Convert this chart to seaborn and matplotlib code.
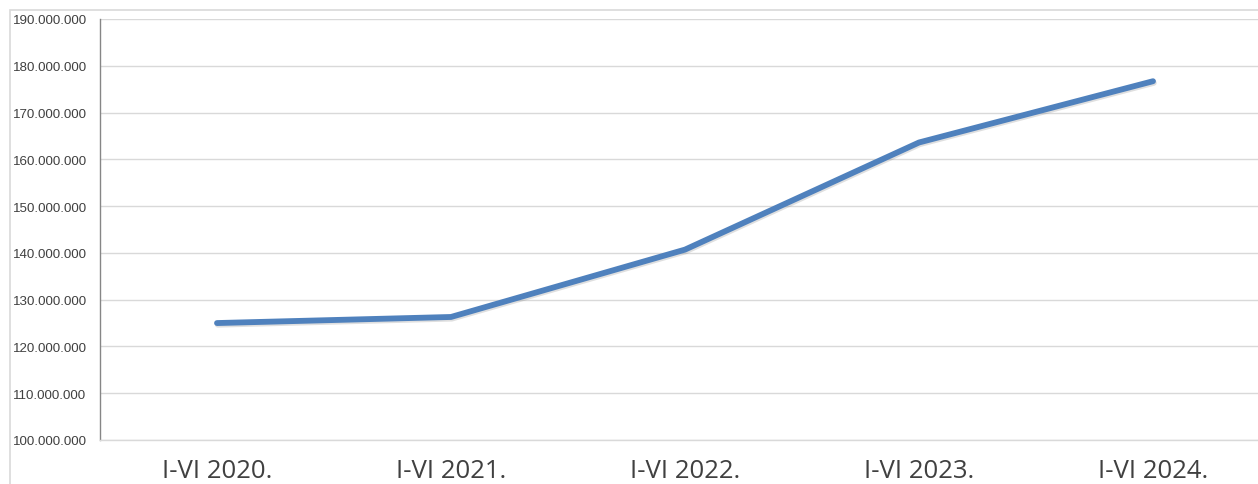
import matplotlib
matplotlib.use("Agg")
import matplotlib.pyplot as plt
import matplotlib.patheffects as pe
from matplotlib.ticker import FuncFormatter, MultipleLocator
from matplotlib.patches import Rectangle
import pandas as pd
import seaborn as sns

# data
periods = ["I-VI 2020.", "I-VI 2021.", "I-VI 2022.", "I-VI 2023.", "I-VI 2024."]
values = [125_000_000, 126_300_000, 140_700_000, 163_600_000, 176_700_000]

df = pd.DataFrame({"period": periods, "value": values})

sns.set_theme(style="white")
plt.rcParams["font.family"] = ["Liberation Sans", "DejaVu Sans"]

fig = plt.figure(figsize=(12.58, 4.85), dpi=100)
# outer chart frame
fig.patches.append(Rectangle((10 / 1258, -0.1), 1.2, 1 - 11 / 485 + 0.1,
                             transform=fig.transFigure, fill=False,
                             edgecolor="#D9D9D9", linewidth=1.2))

ax = fig.add_axes([100 / 1258, 1 - 441 / 485, 1170 / 1258, 421 / 485])

sns.lineplot(data=df, x="period", y="value", ax=ax, color="#4F81BD",
             linewidth=4.2, solid_capstyle="round", solid_joinstyle="round",
             sort=False,
             path_effects=[pe.SimpleLineShadow(offset=(0.6, -1.2), alpha=0.25,
                                               shadow_color="#808080"),
                           pe.Normal()])

ax.set_xlim(-0.5, len(periods) - 0.5)
ax.set_ylim(100_000_000, 190_000_000)
ax.yaxis.set_major_locator(MultipleLocator(10_000_000))
ax.yaxis.set_major_formatter(FuncFormatter(lambda v, p: f"{int(v):,}".replace(",", ".")))

ax.grid(axis="y", color="#D9D9D9", linewidth=1.0)
ax.set_axisbelow(True)
for s in ["top", "right"]:
    ax.spines[s].set_visible(False)
ax.spines["bottom"].set_color("#D9D9D9")
ax.spines["bottom"].set_linewidth(1.0)
ax.spines["left"].set_color("#868686")
ax.spines["left"].set_linewidth(1.0)

ax.set_xlabel("")
ax.set_ylabel("")
ax.tick_params(axis="y", length=0, pad=63, labelsize=9.6, labelcolor="#404040")
ax.tick_params(axis="x", length=0, pad=13, labelsize=18.5, labelcolor="#404040")
for lbl in ax.get_yticklabels():
    lbl.set_horizontalalignment("left")
for lbl in ax.get_xticklabels():
    lbl.set_fontfamily(["Open Sans", "DejaVu Sans"])

fig.savefig("out.png", dpi=100)
